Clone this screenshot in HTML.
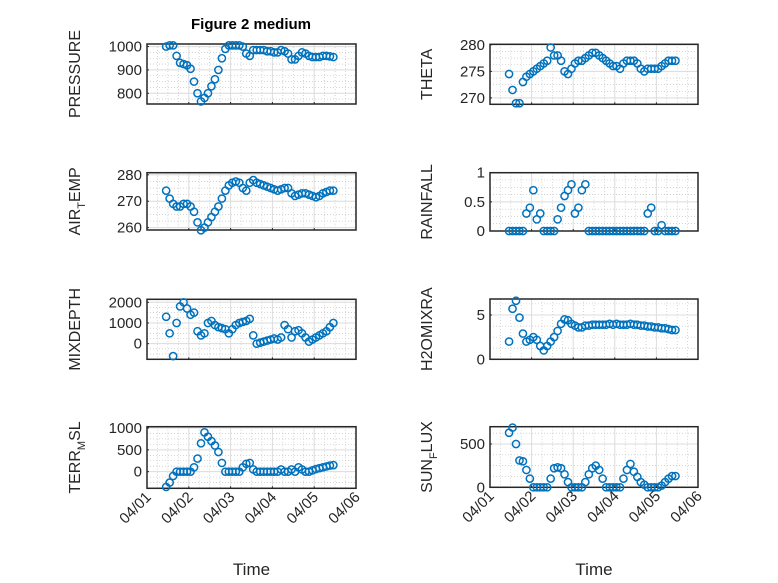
<!DOCTYPE html>
<html><head><meta charset="utf-8"><style>
html,body{margin:0;padding:0;background:#fff;}
svg{display:block;font-family:"Liberation Sans","DejaVu Sans",sans-serif;}
</style></head><body>
<svg id="fig" width="778" height="583" viewBox="0 0 778 583" xmlns="http://www.w3.org/2000/svg">
<rect width="778" height="583" fill="#fff"/>
<text x="251" y="29" text-anchor="middle" font-size="15" font-weight="bold" fill="#000">Figure 2 medium</text>
</svg>
<script>
// hours since 04/01 00:00
const hours=[11,13,15,17,19,21,23,25,27,29,31,33,35,37,39,41,43,45,47,49,51,53,55,57,59,61,63,65,67,69,71,73,75,77,79,81,83,85,87,89,91,93,95,97,99,101,103,105,107];
const xTickLabels=["04/01","04/02","04/03","04/04","04/05","04/06"];
const pressure=[1000,1005,1005,960,930,925,920,905,850,800,765,780,800,830,860,900,950,990,1005,1005,1005,1005,1000,970,960,985,985,985,985,980,980,975,975,985,980,970,945,945,960,975,970,960,955,955,955,960,960,958,955];
const airTemp=[274,271,269,268,268,269,269,268,266,262,259,260,262,264,266,268,271,274,276,277,277.5,277,275,274,277,278,277,276.5,276,275.5,275,274.5,274,274.5,275,275,273,272,272.5,273,273,272.5,272,271.5,272,273,273.5,274,274];
const mixDepth=[1300,500,-600,1000,1800,2000,1700,1400,1500,600,400,500,1000,1100,900,800,750,700,500,700,900,1000,1050,1100,1200,400,0,50,100,150,200,250,200,300,900,700,300,600,650,500,300,100,200,300,400,500,600,800,1000];
const terrMsl=[-350,-250,-100,0,0,0,0,0,100,300,650,900,800,700,600,450,200,0,0,0,0,0,100,180,200,50,0,0,0,0,0,0,0,50,0,0,50,0,100,50,0,0,30,60,80,100,120,140,150];
const theta=[274.5,271.5,269,269,273,274,274.5,275,275.5,276,276.5,277,279.5,278,278,277,275,274.5,275.5,276.5,277,277,277.5,278,278.5,278.5,278,277.5,277,276.5,276,276,275.5,276.5,277,277,277,276.5,275.5,275,275.5,275.5,275.5,275.5,276,276.5,277,277,277];
const rainfall=[0,0,0,0,0,0.3,0.4,0.7,0.2,0.3,0,0,0,0,0.2,0.4,0.6,0.7,0.8,0.3,0.4,0.7,0.8,0,0,0,0,0,0,0,0,0,0,0,0,0,0,0,0,0,0.3,0.4,0,0,0.1,0,0,0,0];
const h2o=[2,5.7,6.6,4.7,2.9,2,2.2,2.5,2.2,1.5,1,1.5,2,2.5,3.2,4,4.5,4.4,4,3.8,3.6,3.6,3.8,3.8,3.9,3.9,3.9,3.9,3.9,4,3.9,4,3.9,3.9,3.9,4,3.9,3.9,3.8,3.8,3.7,3.7,3.6,3.6,3.5,3.5,3.4,3.3,3.3];
const sunFlux=[630,690,500,310,300,200,100,0,0,0,0,0,100,220,230,220,150,60,0,0,0,0,60,150,220,250,200,100,0,0,0,0,0,100,200,270,180,120,60,30,0,0,0,0,20,60,100,130,130];

const svg=document.getElementById('fig');
const NS='http://www.w3.org/2000/svg';
function mk(tag,attrs,parent){const e=document.createElementNS(NS,tag);for(const k in attrs)e.setAttribute(k,attrs[k]);(parent||svg).appendChild(e);return e;}

const panels=[
 {name:'pressure',label:'PRESSURE',data:pressure,x0:147,x1:356,y0:44,y1:104,ymin:754,ymax:1011,ticks:[800,900,1000],minor:25},
 {name:'air-temp',label:'AIR_TEMP',data:airTemp,x0:147,x1:356,y0:172.7,y1:230,ymin:259.1,ymax:280.8,ticks:[260,270,280],minor:2.5},
 {name:'mixdepth',label:'MIXDEPTH',data:mixDepth,x0:147,x1:356,y0:299.3,y1:359.3,ymin:-755,ymax:2145,ticks:[0,1000,2000],minor:250},
 {name:'terr-msl',label:'TERR_MSL',data:terrMsl,x0:147,x1:356,y0:426.7,y1:488.3,ymin:-381,ymax:1030,ticks:[0,500,1000],minor:125},
 {name:'theta',label:'THETA',data:theta,x0:490,x1:698,y0:44.3,y1:104.3,ymin:268.8,ymax:280.1,ticks:[270,275,280],minor:1.25},
 {name:'rainfall',label:'RAINFALL',data:rainfall,x0:490,x1:698,y0:172.7,y1:231,ymin:0,ymax:1,ticks:[0,0.5,1],minor:0.125},
 {name:'h2omixra',label:'H2OMIXRA',data:h2o,x0:490,x1:698,y0:299,y1:359.3,ymin:0,ymax:6.8,ticks:[0,5],minor:1.25},
 {name:'sun-flux',label:'SUN_FLUX',data:sunFlux,x0:490,x1:698,y0:426.7,y1:487.3,ymin:0,ymax:700,ticks:[0,500],minor:125}
];

panels.forEach((p,pi)=>{
 const g=mk('g',{});
 
 
 const xs=h=>p.x0+(h/24)/5*(p.x1-p.x0);
 const ys=v=>p.y1-(v-p.ymin)/(p.ymax-p.ymin)*(p.y1-p.y0);
 for(let h=0;h<=120;h+=6){if(h%24===0)continue;const x=xs(h);
  mk('line',{x1:x,x2:x,y1:p.y0,y2:p.y1,stroke:'#bbb','stroke-width':0.6,'stroke-dasharray':'1,2'},g);}
 let s=Math.ceil(p.ymin/p.minor)*p.minor;
 for(let v=s;v<=p.ymax;v+=p.minor){const y=ys(v);
  mk('line',{x1:p.x0,x2:p.x1,y1:y,y2:y,stroke:'#bbb','stroke-width':0.6,'stroke-dasharray':'1,2'},g);}
 for(let d=1;d<5;d++){const x=xs(d*24);mk('line',{x1:x,x2:x,y1:p.y0,y2:p.y1,stroke:'#dcdcdc','stroke-width':1},g);}
 p.ticks.forEach(v=>{const y=ys(v);mk('line',{x1:p.x0,x2:p.x1,y1:y,y2:y,stroke:'#dcdcdc','stroke-width':1},g);
  const t=mk('text',{x:p.x0-5,y:y+5,'text-anchor':'end','font-size':15,fill:'#262626'},g);
  t.textContent=String(v);
  
  
  mk('line',{x1:p.x0,x2:p.x0+2,y1:y,y2:y,stroke:'#262626'},g);});
 mk('rect',{x:p.x0,y:p.y0,width:p.x1-p.x0,height:p.y1-p.y0,fill:'none',stroke:'#262626','stroke-width':1.5},g);
 for(let d=0;d<=5;d++){const x=xs(d*24);mk('line',{x1:x,x2:x,y1:p.y1,y2:p.y1-2,stroke:'#262626'},g);}
 hours.forEach((h,i)=>{const c=mk('circle',{cx:xs(h),cy:ys(p.data[i]),r:3.6,fill:'none',stroke:'#0072BD','stroke-width':1.5},g);
  
  });
 const parts=p.label.split('_');
 const lx=p.x0-(pi<4?67:58), ly=(p.y0+p.y1)/2;
 const yl=mk('text',{x:lx,y:ly,'text-anchor':'middle','font-size':16,fill:'#262626',transform:'rotate(-90 '+lx+' '+ly+')'},g);
 
 
 if(parts.length===2){
  const a=document.createElementNS(NS,'tspan');a.textContent=parts[0];yl.appendChild(a);
  const b=document.createElementNS(NS,'tspan');b.setAttribute('font-size','11');b.setAttribute('dy','5');b.textContent=parts[1][0];yl.appendChild(b);
  const c=document.createElementNS(NS,'tspan');c.setAttribute('dy','-5');c.textContent=parts[1].slice(1);yl.appendChild(c);
 } else yl.textContent=p.label;
 if(pi===3||pi===7){
  xTickLabels.forEach((lab,d)=>{const x=xs(d*24),y=p.y1+9;
   const t=mk('text',{x:x+3,y:y+4,'text-anchor':'end','font-size':15,fill:'#262626',transform:'rotate(-45 '+x+' '+y+')'},g);
   t.textContent=lab;
   
   });
  const xt=mk('text',{x:(p.x0+p.x1)/2,y:575,'text-anchor':'middle','font-size':17,fill:'#262626'},g);
  xt.textContent='Time';
  
  
 }
});
</script>
</body></html>
